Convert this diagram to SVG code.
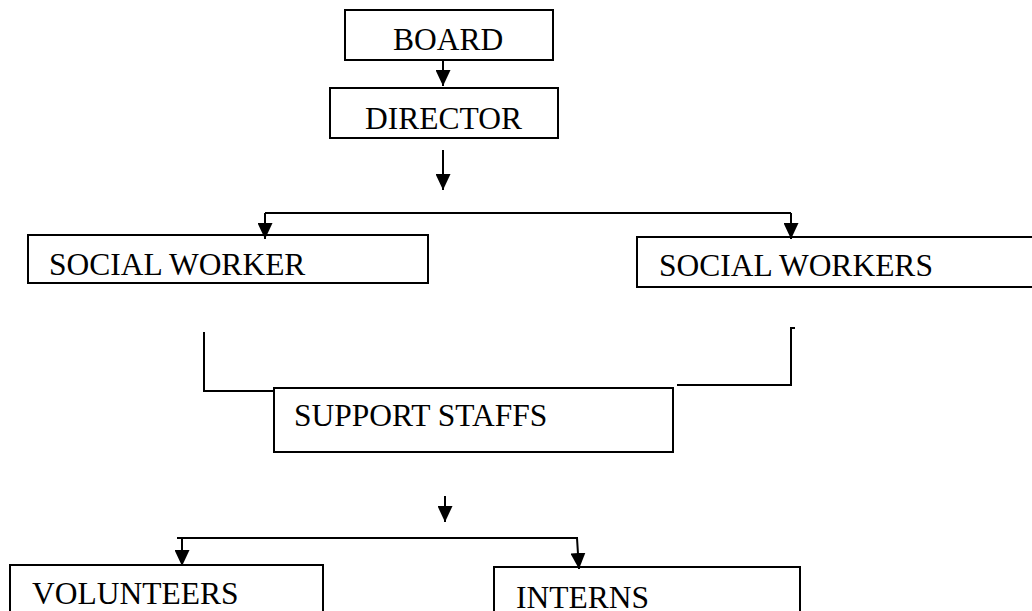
<svg xmlns="http://www.w3.org/2000/svg" width="1032" height="611" viewBox="0 0 1032 611">
  <defs>
    <style>
      .box { fill: #ffffff; stroke: #000000; stroke-width: 2; }
      .lbl { font-family: "Liberation Serif", "Times New Roman", serif; font-size: 31.5px; fill: #000000; }
      .con { fill: none; stroke: #000000; stroke-width: 2; }
    </style>
    <marker id="ah" markerUnits="userSpaceOnUse" markerWidth="16" markerHeight="15" refX="16" refY="7.5" orient="auto">
      <path d="M0,0 L16,7.5 L0,15 z" fill="#000000"/>
    </marker>
  </defs>
  <rect width="1032" height="611" fill="#ffffff"/>

  <g id="board">
    <rect class="box" x="345" y="10" width="208" height="50"/>
    <text class="lbl" x="393" y="50">BOARD</text>
  </g>
  <g id="director">
    <rect class="box" x="330" y="88" width="228" height="50"/>
    <text class="lbl" x="365" y="129">DIRECTOR</text>
  </g>
  <g id="social-worker">
    <rect class="box" x="28" y="235" width="400" height="48"/>
    <text class="lbl" x="49" y="275">SOCIAL WORKER</text>
  </g>
  <g id="social-workers">
    <rect class="box" x="637" y="237" width="410" height="50"/>
    <text class="lbl" x="659" y="276">SOCIAL WORKERS</text>
  </g>
  <g id="support-staffs">
    <rect class="box" x="274" y="388" width="399" height="64"/>
    <text class="lbl" x="294" y="426">SUPPORT STAFFS</text>
  </g>
  <g id="volunteers">
    <rect class="box" x="10" y="565" width="313" height="60"/>
    <text class="lbl" x="32" y="604">VOLUNTEERS</text>
  </g>
  <g id="interns">
    <rect class="box" x="494" y="567" width="306" height="60"/>
    <text class="lbl" x="516" y="608">INTERNS</text>
  </g>

  <g id="connectors">
    <path class="con" d="M443,60 V86" marker-end="url(#ah)"/>
    <path class="con" d="M443,150 V190" marker-end="url(#ah)"/>
    <path class="con" d="M265,213 H791"/>
    <path class="con" d="M265,213 V239" marker-end="url(#ah)"/>
    <path class="con" d="M791,213 V239" marker-end="url(#ah)"/>
    <path class="con" d="M795,328 H791 V385 H677"/>
    <path class="con" d="M204,332 V391 H273"/>
    <path class="con" d="M445,496 V522" marker-end="url(#ah)"/>
    <path class="con" d="M177,538 H578"/>
    <path class="con" d="M182,538 V566" marker-end="url(#ah)"/>
    <path class="con" d="M577,538 L579,569" marker-end="url(#ah)"/>
  </g>
</svg>
